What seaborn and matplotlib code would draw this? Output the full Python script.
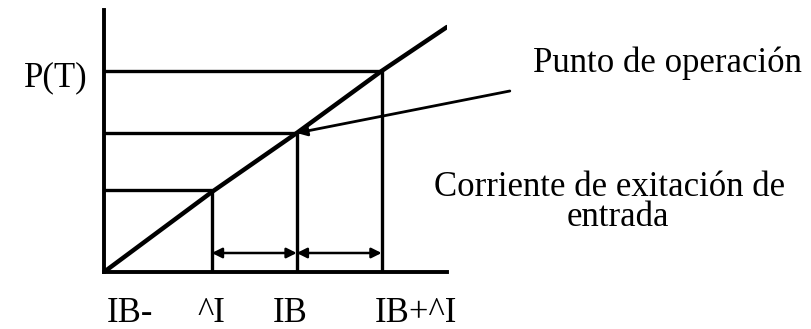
import numpy as np
import pandas as pd
import matplotlib
matplotlib.use("Agg")
import matplotlib.pyplot as plt
import seaborn as sns

# --- data (arbitrary units) ---
current = [0.0, 1.27, 2.27, 3.27, 4.04]      # excitation current along the line
power = [0.0, 0.80, 1.39, 2.01, 2.45]        # optical power P(T)
level_current = [1.27, 2.27, 3.27]           # IB-^I, IB, IB+^I
level_power = [0.82, 1.39, 2.01]             # P at those currents
arrow_height = 0.19
tick_labels = ["IB-", "^I", "IB", "IB+^I"]

sns.set_theme(style="white")
plt.rcParams['font.family'] = ['Liberation Serif', 'DejaVu Serif']
plt.rcParams['text.color'] = 'black'

fig = plt.figure(figsize=(8.11, 3.29), dpi=100)
ax = fig.add_axes([104 / 811, 57 / 329, 343 / 811, 262 / 329])

df = pd.DataFrame({"I": current, "P": power})
sns.lineplot(data=df, x="I", y="P", ax=ax, color="black", linewidth=3.2)

lw = 2.4
for xi, yi in zip(level_current, level_power):
    ax.plot([0, xi], [yi, yi], color="black", lw=lw, solid_capstyle="butt")
    ax.plot([xi, xi], [0, yi], color="black", lw=lw, solid_capstyle="butt")

# double arrows between the current levels
for a, b in zip(level_current[:-1], level_current[1:]):
    ax.annotate("", xy=(a, arrow_height), xytext=(b, arrow_height),
                arrowprops=dict(arrowstyle="<|-|>", color="black", lw=1.8,
                                mutation_scale=15, shrinkA=0, shrinkB=0))

# pointer to operating point
ax.annotate("", xy=(level_current[1], level_power[1]), xytext=(4.78, 1.81),
            annotation_clip=False,
            arrowprops=dict(arrowstyle="-|>", color="black", lw=2.0,
                            mutation_scale=15, shrinkA=0, shrinkB=0))

ax.set_xlim(0, 4.04)
ax.set_ylim(0, 2.62)
ax.set_xticks([])
ax.set_yticks([])
ax.set_xlabel("")
ax.set_ylabel("")
sns.despine(ax=ax)
for s in ["left", "bottom"]:
    ax.spines[s].set_linewidth(2.8)
    ax.spines[s].set_color("black")

fs = 25
label_x = [107, 198, 273, 375]
for px, lab in zip(label_x, tick_labels):
    fig.text(px / 811, 1 - 314 / 329, lab, fontsize=fs, ha="left", va="center")

fig.text(24 / 811, 1 - 78 / 329, "P(T)", fontsize=fs, ha="left", va="center")
fig.text(533 / 811, 1 - 63 / 329, "Punto de operación", fontsize=fs,
         ha="left", va="center")
fig.text(434 / 811, 1 - 188 / 329, "Corriente de exitación de", fontsize=fs,
         ha="left", va="center")
fig.text(618 / 811, 1 - 218 / 329, "entrada", fontsize=fs,
         ha="center", va="center")

fig.savefig("out.png", dpi=100, facecolor="white")
